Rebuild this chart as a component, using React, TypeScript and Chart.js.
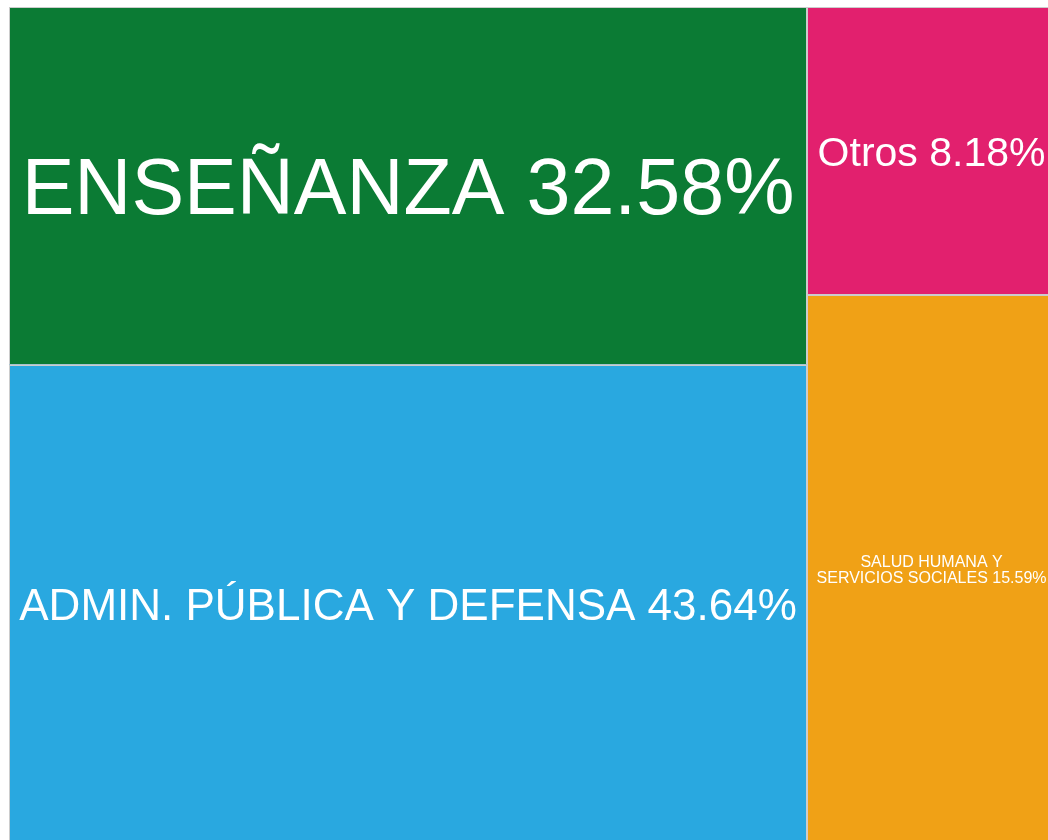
import React, { useEffect, useRef } from "react";
import { Chart, registerables } from "chart.js";

Chart.register(...registerables);

// ---- data ----
const nameLines: string[][] = [
  ["ENSEÑANZA"],
  ["ADMIN. PÚBLICA Y DEFENSA"],
  ["Otros"],
  ["SALUD HUMANA Y", "SERVICIOS SOCIALES"],
];
const values: number[] = [32.58, 43.64, 8.18, 15.59];
const groups: number[] = [0, 0, 1, 1]; // treemap column each cell belongs to

// ---- styles ----
const fillColors = ["#0B7B34", "#29A8E0", "#E2206E", "#F0A116"];
const fontSizes = [79, 44, 41, 16];
const borderColor = "#cccccc";
const FONT = '"Liberation Sans", Arial, Helvetica, sans-serif';

const CANVAS_W = 1056;
const CANVAS_H = 844;

type Cell = { x0: number; x1: number; y0: number; y1: number; i: number };

function layout(): Cell[] {
  const total = values.reduce((a, b) => a + b, 0);
  const groupIds = Array.from(new Set(groups));
  const cells: Cell[] = [];
  let xAcc = 0;
  groupIds.forEach((g) => {
    const idx = values.map((_, i) => i).filter((i) => groups[i] === g);
    const gsum = idx.reduce((a, i) => a + values[i], 0);
    const x0 = (xAcc / total) * 100;
    const x1 = ((xAcc + gsum) / total) * 100;
    let yAcc = 0;
    idx.forEach((i) => {
      const y0 = (yAcc / gsum) * 100;
      const y1 = ((yAcc + values[i]) / gsum) * 100;
      cells.push({ x0, x1, y0, y1, i });
      yAcc += values[i];
    });
    xAcc += gsum;
  });
  return cells;
}

const treemapPlugin = {
  id: "treemapCells",
  afterDatasetsDraw(chart: any) {
    const { ctx, scales } = chart;
    const xs = scales.x;
    const ys = scales.y;
    const cells = layout();
    ctx.save();
    cells.forEach((c) => {
      const px0 = xs.getPixelForValue(c.x0);
      const px1 = xs.getPixelForValue(c.x1);
      const py0 = ys.getPixelForValue(c.y0);
      const py1 = ys.getPixelForValue(c.y1);
      const left = Math.min(px0, px1);
      const top = Math.min(py0, py1);
      const w = Math.abs(px1 - px0);
      const h = Math.abs(py1 - py0);
      ctx.fillStyle = fillColors[c.i];
      ctx.fillRect(left, top, w, h);
      ctx.strokeStyle = borderColor;
      ctx.lineWidth = 1;
      ctx.strokeRect(Math.round(left) + 0.5, Math.round(top) + 0.5, Math.round(w) - 1, Math.round(h) - 1);

      // label
      const size = fontSizes[c.i];
      const lines = nameLines[c.i].slice();
      lines[lines.length - 1] = lines[lines.length - 1] + " " + values[c.i].toFixed(2) + "%";
      ctx.font = `${size}px ${FONT}`;
      ctx.fillStyle = "#ffffff";
      ctx.textAlign = "center";
      ctx.textBaseline = "alphabetic";
      const cx = left + w / 2;
      const cy = top + h / 2;
      const lh = size * 1.02;
      const n = lines.length;
      lines.forEach((line, k) => {
        const capCenter = cy + (k - (n - 1) / 2) * lh;
        ctx.fillText(line, cx, capCenter + size * 0.358);
      });
    });
    ctx.restore();
  },
};

export default function App() {
  const ref = useRef<HTMLCanvasElement | null>(null);
  useEffect(() => {
    const canvas = ref.current;
    if (!canvas) return;
    const chart = new Chart(canvas, {
      type: "scatter",
      data: { datasets: [] },
      options: {
        animation: false,
        responsive: false,
        devicePixelRatio: 1,
        layout: { padding: { left: 9, top: 7, right: 0, bottom: 0 } },
        plugins: { legend: { display: false }, tooltip: { enabled: false } },
        scales: {
          x: { type: "linear", min: 0, max: 100, display: false },
          y: { type: "linear", min: 0, max: 100, reverse: true, display: false },
        },
      },
      plugins: [treemapPlugin],
    });
    return () => chart.destroy();
  }, []);
  return (
    <div
      style={{
        position: "fixed",
        left: 0,
        top: 0,
        width: 1048,
        height: 840,
        overflow: "hidden",
        background: "#ffffff",
      }}
    >
      <canvas
        ref={ref}
        width={CANVAS_W}
        height={CANVAS_H}
        style={{ width: CANVAS_W, height: CANVAS_H, display: "block" }}
      />
    </div>
  );
}
